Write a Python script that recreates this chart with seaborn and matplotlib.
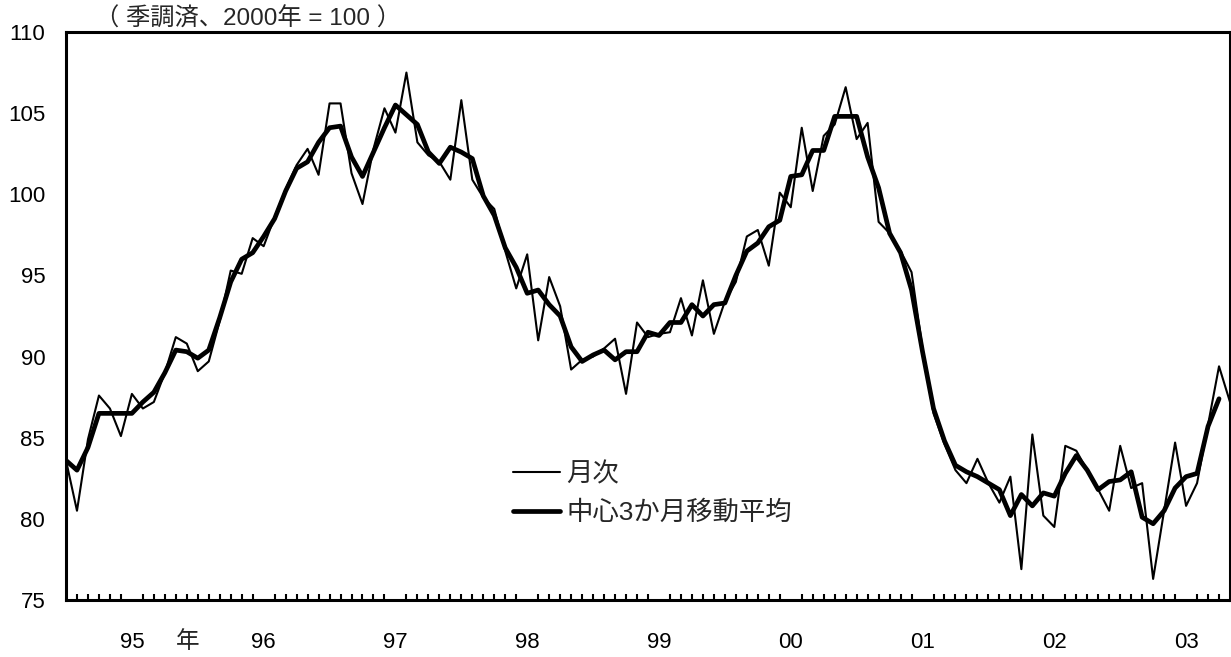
import matplotlib
matplotlib.use("Agg")
import matplotlib.pyplot as plt
import seaborn as sns
import pandas as pd
import numpy as np

# Monthly index, Jan 1995 (0) .. Nov 2003 (106)
monthly = [83.6, 80.5, 84.9, 87.6, 86.8, 85.1, 87.7, 86.8, 87.2, 89.0, 91.2, 90.8,
           89.1, 89.7, 92.2, 95.3, 95.1, 97.3, 96.8, 98.6, 100.3, 101.8, 102.8, 101.2,
           105.6, 105.6, 101.3, 99.4, 102.8, 105.3, 103.8, 107.5, 103.2, 102.4, 102.0, 100.9,
           105.8, 100.9, 99.8, 99.1, 96.5, 94.2, 96.3, 91.0, 94.9, 93.1, 89.2, 89.8,
           90.0, 90.5, 91.1, 87.7, 92.1, 91.2, 91.4, 91.5, 93.6, 91.3, 94.7, 91.4,
           93.4, 94.6, 97.4, 97.8, 95.6, 100.1, 99.2, 104.1, 100.2, 103.6, 104.3, 106.6,
           103.4, 104.4, 98.3, 97.6, 96.5, 95.2, 90.5, 86.5, 84.6, 83.0, 82.2, 83.7,
           82.2, 81.0, 82.6, 76.9, 85.2, 80.2, 79.5, 84.5, 84.2, 83.0, 81.8, 80.5,
           84.5, 81.9, 82.2, 76.3, 80.5, 84.7, 80.8, 82.2, 85.8, 89.4, 87.2]

# Centered 3-month moving average, Jan 1995 .. Oct 2003
moving_avg = [83.6, 83.0, 84.4, 86.5, 86.5, 86.5, 86.5, 87.2, 87.8, 89.0, 90.4, 90.3,
              89.9, 90.4, 92.4, 94.6, 96.0, 96.4, 97.4, 98.5, 100.2, 101.6, 102.0, 103.2,
              104.1, 104.2, 102.3, 101.1, 102.6, 104.1, 105.5, 104.9, 104.3, 102.6, 101.9, 102.9,
              102.6, 102.2, 99.9, 98.7, 96.7, 95.5, 93.9, 94.1, 93.2, 92.5, 90.6, 89.7,
              90.1, 90.4, 89.8, 90.3, 90.3, 91.5, 91.3, 92.1, 92.1, 93.2, 92.5, 93.2,
              93.3, 95.0, 96.5, 97.0, 98.0, 98.4, 101.1, 101.2, 102.7, 102.7, 104.8, 104.8,
              104.8, 102.3, 100.4, 97.6, 96.4, 94.1, 90.3, 86.8, 84.8, 83.3, 82.9, 82.6,
              82.2, 81.8, 80.2, 81.5, 80.8, 81.6, 81.4, 82.8, 83.9, 83.0, 81.8, 82.3,
              82.4, 82.9, 80.1, 79.7, 80.5, 81.9, 82.6, 82.8, 85.7, 87.4]

year_labels = ["95", "96", "97", "98", "99", "00", "01", "02", "03"]
y_ticks = [75, 80, 85, 90, 95, 100, 105, 110]

sns.set_theme(style="white")
plt.rcParams['font.family'] = ['Liberation Sans', 'Noto Sans CJK JP', 'DejaVu Sans']

df_m = pd.DataFrame({"month": np.arange(len(monthly)), "value": monthly})
df_a = pd.DataFrame({"month": np.arange(len(moving_avg)), "value": moving_avg})

W, H = 1231, 657
fig = plt.figure(figsize=(W / 100, H / 100), dpi=100)
ax = fig.add_axes([66 / W, 1 - 600 / H, (1230 - 66) / W, (600 - 32) / H])

sns.lineplot(data=df_m, x="month", y="value", ax=ax, color="black", linewidth=1.5, label="月次")
sns.lineplot(data=df_a, x="month", y="value", ax=ax, color="black", linewidth=3.4,
             label="中心3か月移動平均")

ax.set_xlim(0, len(monthly) - 1)
ax.set_ylim(75, 110)
ax.set_xlabel("")
ax.set_ylabel("")

for s in ax.spines.values():
    s.set_visible(True)
    s.set_color("black")
    s.set_linewidth(2.2)

ax.set_yticks(y_ticks)
ax.set_yticklabels([str(v) for v in y_ticks])
ax.tick_params(axis="y", direction="in", length=6, width=1.6, pad=15, labelsize=16, colors="black")

ax.set_xticks([6 + 12 * i for i in range(len(year_labels))])
ax.set_xticklabels(year_labels)
ax.set_xticks(np.arange(1, len(monthly) - 1), minor=True)
ax.tick_params(axis="x", which="major", length=0, pad=23, labelsize=16, colors="black")
ax.tick_params(axis="x", which="minor", direction="in", length=4, width=1.5, colors="black", bottom=True)

fig.text(248 / W, 1 - 19 / H, "（ 季調済、2000年 = 100 ）", ha="center", va="center", fontsize=17.5,
         family=['Liberation Sans', 'Noto Sans CJK JP'])
fig.text(188 / W, 1 - 642 / H, "年", ha="center", va="center", fontsize=17,
         family=['Noto Sans CJK JP'])

leg = ax.legend(loc="upper left", bbox_to_anchor=(513 / W, 1 - 462 / H),
                bbox_transform=fig.transFigure, frameon=False, fontsize=19,
                handlelength=1.78, handletextpad=0.23, labelspacing=0.55,
                borderpad=0, borderaxespad=0)

fig.savefig("out.png", dpi=100, facecolor="white")
